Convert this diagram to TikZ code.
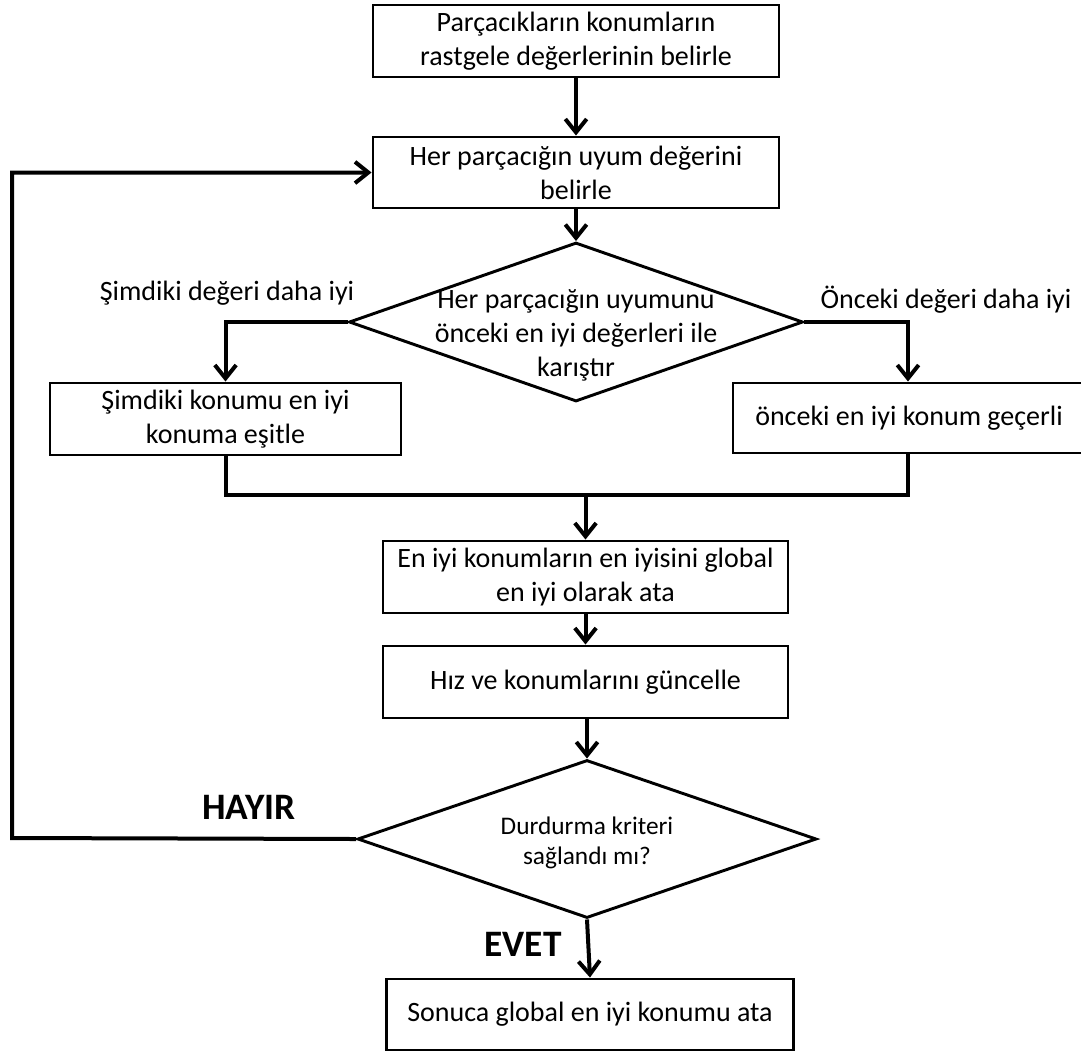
\documentclass[tikz,border=0pt]{standalone}
\usepackage{fontspec}
\setmainfont{Carlito}
\usepackage{tikz}
\usetikzlibrary{arrows.meta,positioning,shapes.geometric}

\begin{document}
\begin{tikzpicture}[x=0.75pt,y=-0.75pt,
  box/.style={draw,line width=2.2pt,align=center,inner sep=0pt,font=\fontsize{21}{25.5}\selectfont},
  dia/.style={draw,diamond,line width=2.2pt,inner sep=0pt},
  flow/.style={line width=3pt,-{Straight Barb[length=10pt,width=16pt,line width=3pt]}},
  link/.style={line width=3pt},
  tag/.style={font=\fontsize{21}{24}\selectfont},
  bigtag/.style={font=\fontsize{28}{32}\selectfont\bfseries}]
  \useasboundingbox (0,0) rectangle (1081,1051);
  \node[box,minimum width=304.5pt,minimum height=54pt] (init) at (576,41) {Parçacıkların konumların\\rastgele değerlerinin belirle};
  \node[box,minimum width=304.5pt,minimum height=53.25pt] (fit) at (576,172.5) {Her parçacığın uyum değerini\\belirle};
  \node[dia,minimum width=340.5pt,minimum height=119.25pt] (cmp) at (576,322) {};
  \node[align=center,font=\fontsize{21}{25.5}\selectfont] (cmptxt) at (576,335) {Her parçacığın uyumunu\\önceki en iyi değerleri ile\\karıştır};
  \node[box,minimum width=263.25pt,minimum height=54pt] (cur) at (225.5,419) {Şimdiki konumu en iyi\\konuma eşitle};
  \node[box,minimum width=264pt,minimum height=52.5pt] (prev) at (909,418) {önceki en iyi konum geçerli};
  \node[box,minimum width=303.75pt,minimum height=54pt] (gbest) at (585.5,577) {En iyi konumların en iyisini global\\en iyi olarak ata};
  \node[box,minimum width=303.75pt,minimum height=54pt] (upd) at (585.5,682) {Hız ve konumlarını güncelle};
  \node[dia,minimum width=344.25pt,minimum height=118.5pt] (stop) at (587,839) {};
  \node[align=center,font=\fontsize{19}{23}\selectfont] (stoptxt) at (587,843) {Durdurma kriteri\\sağlandı mı?};
  \node[box,minimum width=305pt,minimum height=53.25pt] (res) at (590,1014.5) {Sonuca global en iyi konumu ata};
  \node[tag] (curtag) at (227,293) {Şimdiki değeri daha iyi};
  \node[tag] (prevtag) at (946,300) {Önceki değeri daha iyi};
  \node[bigtag] (no) at (249,807) {HAYIR};
  \node[bigtag] (yes) at (523,944) {EVET};
  \coordinate (mrg) at (585.5,495);
  \coordinate (back) at (12,838);
  \draw[flow] (init) -- (fit);
  \draw[flow] (fit) -- (cmp.north);
  \draw[flow] (cmp.west) -| (cur.north);
  \draw[flow] (cmp.east) -| (prev.north -| 908,0);
  \draw[link] (cur.south) |- (mrg) -| (prev.south -| 908,0);
  \draw[flow] (mrg) -- (gbest);
  \draw[flow] (gbest) -- (upd);
  \draw[flow] (upd.south -| stop.north) -- (stop.north);
  \draw[flow] (stop.west) -- (back) |- (fit.west);
  \draw[flow] (stop.south) -- (res.north);
\end{tikzpicture}
\end{document}
